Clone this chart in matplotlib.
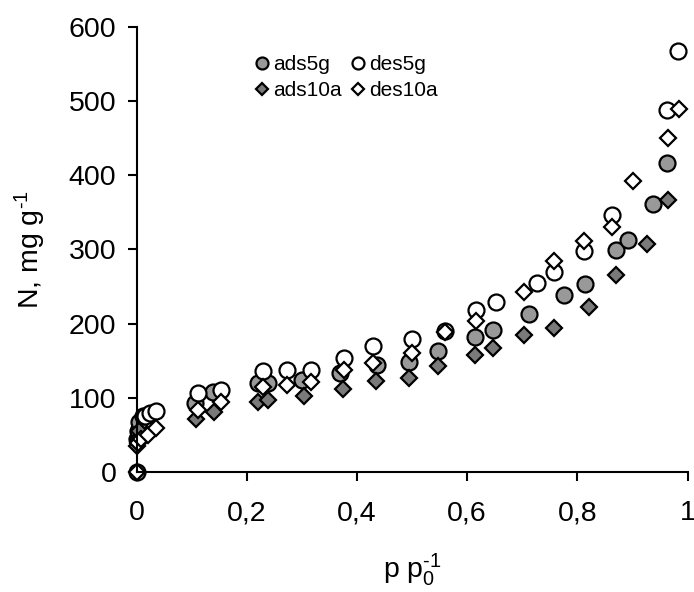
import matplotlib
matplotlib.use("Agg")
import matplotlib.pyplot as plt
from matplotlib.ticker import FuncFormatter

plt.rcParams["font.family"] = ["Liberation Sans", "DejaVu Sans"]

# Adsorption / desorption isotherms
ads5g_x = [0.0, 0.001, 0.002, 0.005, 0.012, 0.022, 0.106, 0.139, 0.220, 0.238, 0.301,
           0.370, 0.436, 0.495, 0.548, 0.614, 0.647, 0.712, 0.776, 0.813, 0.871, 0.892,
           0.937, 0.963]
ads5g_y = [0, 45, 55, 68, 75, 78, 93, 108, 120, 120, 124, 133, 144, 148, 163, 182, 191,
           213, 238, 253, 299, 313, 362, 417]

ads10a_x = [0.0, 0.002, 0.005, 0.108, 0.141, 0.220, 0.238, 0.304, 0.374, 0.434, 0.495,
            0.548, 0.614, 0.647, 0.704, 0.757, 0.822, 0.871, 0.926, 0.965]
ads10a_y = [35, 45, 55, 72, 81, 95, 97, 102, 112, 123, 127, 143, 158, 167, 185, 194, 223,
            266, 308, 367]

des5g_x = [0.015, 0.025, 0.035, 0.111, 0.153, 0.229, 0.274, 0.317, 0.377, 0.429, 0.500,
           0.560, 0.616, 0.653, 0.726, 0.757, 0.812, 0.863, 0.962, 0.982]
des5g_y = [76, 80, 82, 106, 111, 136, 137, 138, 154, 170, 179, 190, 219, 229, 255, 269,
           298, 347, 488, 568]

des10a_x = [0.0, 0.003, 0.008, 0.020, 0.035, 0.111, 0.153, 0.229, 0.274, 0.317, 0.377,
            0.429, 0.500, 0.560, 0.616, 0.704, 0.757, 0.812, 0.863, 0.901, 0.965, 0.985]
des10a_y = [0, 39, 45, 50, 59, 84, 95, 115, 117, 122, 137, 147, 161, 189, 204, 243, 285,
            311, 330, 392, 450, 489]

x_ticks = [0, 0.2, 0.4, 0.6, 0.8, 1.0]
y_ticks = [0, 100, 200, 300, 400, 500, 600]

fig = plt.figure(figsize=(6.94, 5.92), dpi=100)
ax = fig.add_axes([0.1967, 0.2027, 0.794, 0.7517])

edge = dict(markeredgecolor="black", markeredgewidth=1.6, linestyle="none", clip_on=False)
ax.plot(ads5g_x, ads5g_y, "o", ms=11.5, markerfacecolor="#999999", label="ads5g", **edge)
ax.plot(ads10a_x, ads10a_y, "D", ms=8.3, markerfacecolor="#7a7a7a", label="ads10a", **edge)
ax.plot(des5g_x, des5g_y, "o", ms=11.5, markerfacecolor="white", label="des5g", **edge)
ax.plot(des10a_x, des10a_y, "D", ms=8.3, markerfacecolor="white", label="des10a", **edge)

ax.set_xlim(0, 1)
ax.set_ylim(0, 600)
ax.set_xticks(x_ticks)
ax.set_yticks(y_ticks)
ax.xaxis.set_major_formatter(FuncFormatter(lambda v, _: f"{v:g}".replace(".", ",")))

for side in ("top", "right"):
    ax.spines[side].set_visible(False)
for side in ("left", "bottom"):
    ax.spines[side].set_linewidth(1.5)
ax.tick_params(axis="both", direction="out", length=6.5, width=1.5, labelsize=20.5)
ax.tick_params(axis="x", pad=14)
ax.tick_params(axis="y", pad=8)

ax.set_xlabel("p p$\\mathregular{_0^{\u2010" + "1}}$", fontsize=20.5, labelpad=18)
ax.set_ylabel("N, mg g$\\mathregular{^{\u2010" + "1}}$", fontsize=20.5, labelpad=15)

leg = ax.legend(ncol=2, frameon=False, fontsize=15, markerscale=0.75,
                handlelength=0.7, handletextpad=0.2, columnspacing=0.4,
                labelspacing=0.35, borderpad=0, loc="upper left",
                bbox_to_anchor=(0.352, 0.925), bbox_transform=fig.transFigure)

fig.savefig("out.png", dpi=100)
